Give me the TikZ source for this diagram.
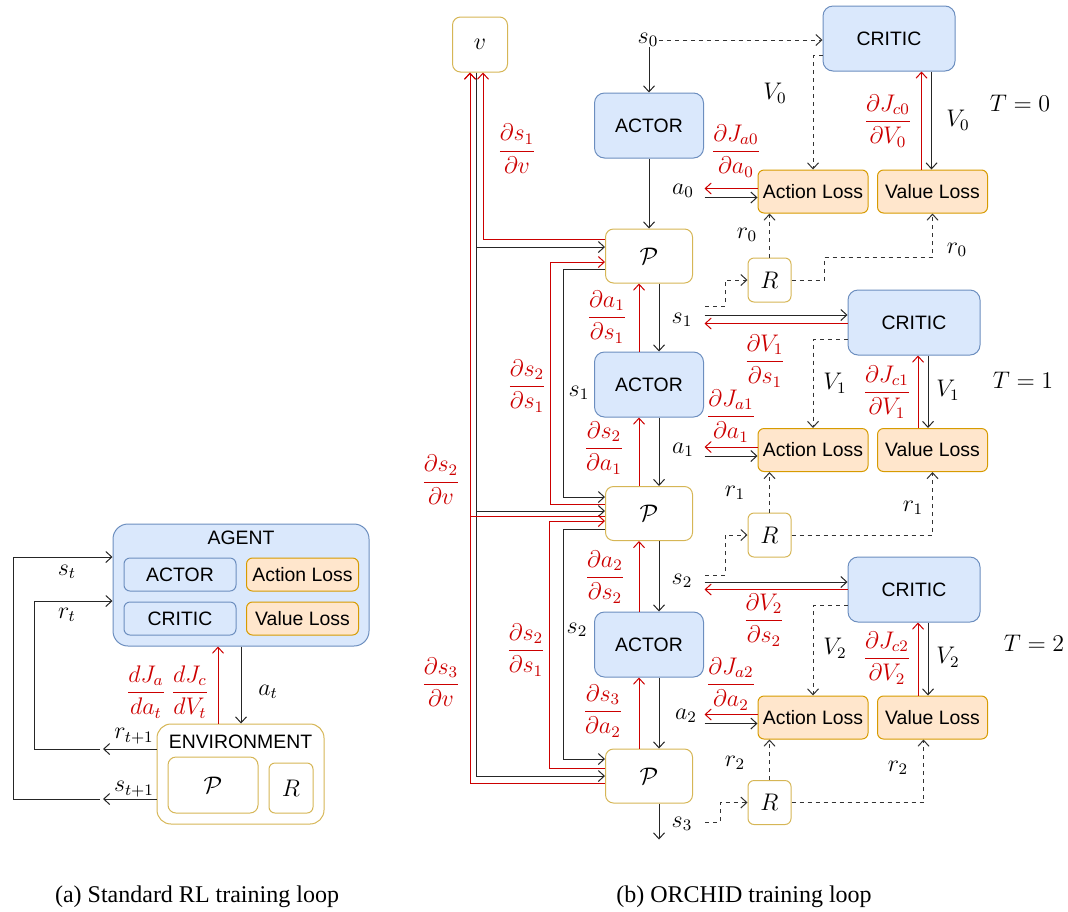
\documentclass[tikz,border=0pt]{standalone}
\usepackage{amsmath}
\usepackage{fontspec}
\setsansfont{Liberation Sans}
\newfontfamily\capfont{Liberation Serif}
\usetikzlibrary{arrows.meta,calc}
\definecolor{bluefill}{HTML}{DAE8FC}
\definecolor{blueedge}{HTML}{6C8EBF}
\definecolor{lossfill}{HTML}{FFE6CC}
\definecolor{lossedge}{HTML}{D79B00}
\definecolor{envedge}{HTML}{D6B656}
\definecolor{gradred}{HTML}{CC0000}
\newcommand{\boxfont}{\fontsize{9.7}{11}\selectfont\sffamily}
\newcommand{\mathfont}{\fontsize{12}{14}\selectfont}
\newcommand{\pd}[2]{$\dfrac{\partial #1}{\partial #2}$}

\begin{document}
\begin{tikzpicture}[
    x=0.5pt, y=-0.5pt,
    >={Straight Barb[length=3pt,width=5.5pt]},
    line width=0.5pt,
    flow/.style={->, black!85},
    grad/.style={->, gradred},
    dflow/.style={->, black!80, dash pattern=on 2pt off 2pt},
    box/.style={rounded corners=4pt, inner sep=0pt, font=\boxfont},
    bluebox/.style={box, draw=blueedge, fill=bluefill},
    actorbox/.style={bluebox, rounded corners=5pt, minimum width=54.5pt, minimum height=32.5pt},
    criticbox/.style={bluebox, rounded corners=5pt, minimum width=66pt, minimum height=32.5pt},
    lossbox/.style={box, draw=lossedge, fill=lossfill, rounded corners=3pt, minimum width=55pt, minimum height=21.5pt},
    envbox/.style={box, draw=envedge, fill=white, font=\mathfont},
    pbox/.style={envbox, minimum width=43.5pt, minimum height=27pt},
    rbox/.style={envbox, rounded corners=3pt, minimum width=21.5pt, minimum height=22pt},
    lbl/.style={font=\mathfont, inner sep=0pt},
    glbl/.style={lbl, text=gradred},
    caption/.style={font=\capfont\fontsize{12}{14}\selectfont, inner sep=0pt}
  ]
  \useasboundingbox (0,0) rectangle (1068,911);

  % (a) standard loop
  \node[bluebox, rounded corners=7.5pt, minimum width=128pt, minimum height=61pt] (agent) at (241,585) {};
  \node[font=\boxfont, inner sep=0pt] (agentlbl) at (241,538) {AGENT};
  \node[bluebox, rounded corners=3pt, minimum width=56pt, minimum height=16.5pt] (actora) at (180,574.5) {ACTOR};
  \node[lossbox, minimum width=56pt, minimum height=16.5pt] (actlossa) at (302.5,574.5) {Action Loss};
  \node[bluebox, rounded corners=3pt, minimum width=56pt, minimum height=16.5pt] (critica) at (180,618.5) {CRITIC};
  \node[lossbox, minimum width=56pt, minimum height=16.5pt] (vallossa) at (302.5,618.5) {Value Loss};
  \node[envbox, rounded corners=7pt, minimum width=83.5pt, minimum height=50pt] (env) at (240.5,774) {};
  \node[font=\boxfont, inner sep=0pt] (envlbl) at (240.5,742) {ENVIRONMENT};
  \node[envbox, minimum width=45pt, minimum height=28pt] (pa) at (213,785) {$\mathcal{P}$};
  \node[rbox, minimum width=22pt, minimum height=25pt] (ra) at (291,788) {$R$};

  \draw[flow] (agent.south) -- (agent.south |- env.north);
  \draw[grad] ($(env.north)+(-22.5,0)$) -- ($(agent.south)+(-23,0)$);
  \coordinate (sret) at (103,799);
  \coordinate (rret) at (103,749);
  \draw[flow] (env.west |- sret) -- (sret);
  \draw[flow] (env.west |- rret) -- (rret);
  \draw[flow] ($(sret)+(-3,0)$) -- ++(-87,0) |- ($(agent.west)+(0,-28)$);
  \draw[flow] ($(rret)+(-3,0)$) -- ++(-66,0) |- ($(agent.west)+(0,16)$);

  \node[lbl] (lst) at (67,572) {$s_t$};
  \node[lbl] (lrt) at (67,615) {$r_t$};
  \node[lbl] (lrt1) at (134,736) {$r_{t+1}$};
  \node[lbl] (lst1) at (134,789) {$s_{t+1}$};
  \node[lbl] (lat) at (268,692) {$a_t$};
  \node[glbl] (lgja) at (146,692) {$\dfrac{dJ_a}{da_t}$};
  \node[glbl] (lgjc) at (190,692) {$\dfrac{dJ_c}{dV_t}$};

  % (b) ORCHID loop, boxes
  \node[envbox, minimum width=27.5pt, minimum height=27.5pt] (v) at (480,44.5) {$v$};
  \node[lbl] (s0) at (648,40) {$s_0$};
  \node[actorbox] (actor0) at (649,125.5) {ACTOR};
  \node[actorbox] (actor1) at (649,384.5) {ACTOR};
  \node[actorbox] (actor2) at (649,644.5) {ACTOR};
  \node[criticbox] (critic0) at (889,38.5) {CRITIC};
  \node[criticbox] (critic1) at (914,322.5) {CRITIC};
  \node[criticbox] (critic2) at (914,589.5) {CRITIC};
  \node[pbox] (p1) at (649,256) {$\mathcal{P}$};
  \node[pbox] (p2) at (649,513.5) {$\mathcal{P}$};
  \node[pbox] (p3) at (649,776) {$\mathcal{P}$};
  \foreach \i/\yl/\yr in {0/191.5/280, 1/450/535, 2/717.5/802.5} {
    \node[lossbox] (al\i) at (813,\yl) {Action Loss};
    \node[lossbox] (vl\i) at (932.5,\yl) {Value Loss};
    \node[rbox] (r\i) at (769.5,\yr) {$R$};
  }

  % losses and rewards
  \foreach \i in {0,1,2} {
    \draw[grad] ($(al\i.west)+(0,-3)$) -- ++(-53,0);
    \draw[flow] ($(al\i.west)+(-53,6)$) -- ($(al\i.west)+(0,6)$);
    \draw[dflow] (r\i.north) -- (r\i.north |- al\i.south);
  }

  % T = 0
  \draw[flow] (s0.south -| actor0) -- (actor0.north);
  \draw[dflow] (s0.east) -- (s0.east -| critic0.west);
  \draw[flow] (actor0.south) -- (actor0.south |- p1.north);
  \draw[dflow] ($(critic0.west)+(0,17)$) -| (al0.north);
  \draw[grad] ($(vl0.north)+(-11,0)$) -- ($(vl0.north |- critic0.south)+(-11,0)$);
  \draw[flow] ($(vl0.north |- critic0.south)+(-1,0)$) -- ($(vl0.north)+(-1,0)$);
  \draw[dflow] (r0.east) -- (824,280) -- (824,257) -| (vl0.south);
  \coordinate (s1r) at (705,306);
  \draw[dflow] (s1r) -- (725,306) |- (r0.west);

  % T = 1
  \draw[flow] ($(p1.south)+(10,0)$) -- ($(actor1.north)+(10,0)$);
  \draw[grad] ($(actor1.north)+(-10,0)$) -- ($(p1.south)+(-10,0)$);
  \draw[flow] ($(actor1.south)+(10,0)$) -- ($(p2.north)+(10,0)$);
  \draw[grad] ($(p2.north)+(-10,0)$) -- ($(actor1.south)+(-10,0)$);
  \draw[flow] ($(critic1.west)+(-143,-7.5)$) -- ($(critic1.west)+(0,-7.5)$);
  \draw[grad] ($(critic1.west)+(0,1)$) -- ++(-143,0);
  \draw[dflow] ($(critic1.west)+(0,16.5)$) -| (al1.north);
  \draw[grad] ($(vl1.north)+(-14.5,0)$) -- ($(vl1.north |- critic1.south)+(-14.5,0)$);
  \draw[flow] ($(vl1.north |- critic1.south)+(-4.5,0)$) -- ($(vl1.north)+(-4.5,0)$);
  \draw[dflow] (r1.east) -| (vl1.south);
  \coordinate (s2r) at (705,575);
  \draw[dflow] (s2r) -- (725,575) |- (r1.west);

  % T = 2
  \draw[flow] ($(p2.south)+(10,0)$) -- ($(actor2.north)+(10,0)$);
  \draw[grad] ($(actor2.north)+(-10,0)$) -- ($(p2.south)+(-10,0)$);
  \draw[flow] ($(actor2.south)+(10,0)$) -- ($(p3.north)+(10,0)$);
  \draw[grad] ($(p3.north)+(-10,0)$) -- ($(actor2.south)+(-10,0)$);
  \draw[flow] ($(critic2.west)+(-143,-7.5)$) -- ($(critic2.west)+(0,-7.5)$);
  \draw[grad] ($(critic2.west)+(0,0)$) -- ++(-143,0);
  \draw[dflow] ($(critic2.west)+(0,16)$) -| (al2.north);
  \draw[grad] ($(vl2.north)+(-14.5,0)$) -- ($(vl2.north |- critic2.south)+(-14.5,0)$);
  \draw[flow] ($(vl2.north |- critic2.south)+(-4.5,0)$) -- ($(vl2.north)+(-4.5,0)$);
  \draw[dflow] (r2.east) -| ($(vl2.south)+(-9,0)$);
  \coordinate (s3r) at (705,822);
  \draw[dflow] (s3r) -- (720,822) |- (r2.west);
  \draw[flow] ($(p3.south)+(10,0)$) -- ++(0,36);

  % v feeds and gradients back to v
  \draw[flow] (v.south) ++(-4,0) |- ($(p1.west)+(0,-9)$);
  \draw[flow] (v.south) ++(-4,0) |- ($(p2.west)+(0,-2.5)$);
  \draw[flow] (v.south) ++(-4,0) |- (p3.west);
  \draw[grad] ($(p1.west)+(0,-17)$) -| ($(v.south)+(3,0)$);
  \draw[grad] ($(p2.west)+(0,2.5)$) -| ($(v.south)+(-10,0)$);
  \draw[grad] ($(p3.west)+(0,7)$) -| ($(v.south)+(-10,0)$);

  % state carried between steps
  \draw[flow] ($(p1.west)+(0,13)$) -- ++(-42,0) |- ($(p2.west)+(0,-16.5)$);
  \draw[grad] ($(p2.west)+(0,-9)$) -- ++(-54.5,0) |- ($(p1.west)+(0,6)$);
  \draw[flow] ($(p2.west)+(0,15.5)$) -- ++(-42,0) |- ($(p3.west)+(0,-17)$);
  \draw[grad] ($(p3.west)+(0,-8)$) -- ++(-55.5,0) |- ($(p2.west)+(0,7.5)$);

  % labels
  \node[lbl] (ls1) at (682,320) {$s_1$};
  \node[lbl] (ls2) at (682,581) {$s_2$};
  \node[lbl] (ls3) at (682,824) {$s_3$};
  \node[lbl] (ls1b) at (579,393) {$s_1$};
  \node[lbl] (ls2b) at (577,630) {$s_2$};
  \node[lbl] (la0) at (683,191) {$a_0$};
  \node[lbl] (la1) at (683,450) {$a_1$};
  \node[lbl] (la2) at (686,716) {$a_2$};
  \node[lbl] (lv0a) at (775,93) {$V_0$};
  \node[lbl] (lv0b) at (958,120) {$V_0$};
  \node[lbl] (lv1a) at (835,383) {$V_1$};
  \node[lbl] (lv1b) at (948,390) {$V_1$};
  \node[lbl] (lv2a) at (835,648) {$V_2$};
  \node[lbl] (lv2b) at (948,657) {$V_2$};
  \node[lbl] (lr0a) at (747,235) {$r_0$};
  \node[lbl] (lr0b) at (957,250) {$r_0$};
  \node[lbl] (lr1a) at (735,493) {$r_1$};
  \node[lbl] (lr1b) at (913,508) {$r_1$};
  \node[lbl] (lr2a) at (735,763) {$r_2$};
  \node[lbl] (lr2b) at (898,768) {$r_2$};
  \foreach \t/\x/\y in {0/1020/103, 1/1023/380, 2/1034/643} {
    \node[lbl] (lt\t) at (\x,\y) {$T=\t$};
  }

  % gradient labels
  \node[glbl] (gs1v) at (517,149) {\pd{s_1}{v}};
  \node[glbl] (gs2va) at (441,480) {\pd{s_2}{v}};
  \node[glbl] (gs3v) at (441,682) {\pd{s_3}{v}};
  \node[glbl] (gs2s1a) at (527,386) {\pd{s_2}{s_1}};
  \node[glbl] (gs2s1b) at (526,650) {\pd{s_2}{s_1}};
  \node[glbl] (ga1s1) at (607,317) {\pd{a_1}{s_1}};
  \node[glbl] (gs2a1) at (604,448) {\pd{s_2}{a_1}};
  \node[glbl] (ga2s2) at (605,577) {\pd{a_2}{s_2}};
  \node[glbl] (gs3a2) at (603,711) {\pd{s_3}{a_2}};
  \node[glbl] (gja0) at (736,151) {\pd{J_{a0}}{a_0}};
  \node[glbl] (gja1) at (731,416) {\pd{J_{a1}}{a_1}};
  \node[glbl] (gja2) at (731,684) {\pd{J_{a2}}{a_2}};
  \node[glbl] (gjc0) at (888,121) {\pd{J_{c0}}{V_0}};
  \node[glbl] (gjc1) at (887,392) {\pd{J_{c1}}{V_1}};
  \node[glbl] (gjc2) at (887,658) {\pd{J_{c2}}{V_2}};
  \node[glbl] (gv1) at (765,361) {\pd{V_1}{s_1}};
  \node[glbl] (gv2) at (764,620) {\pd{V_2}{s_2}};

  % captions
  \node[caption] (capa) at (197,897) {(a) Standard RL training loop};
  \node[caption] (capb) at (744,897) {(b) ORCHID training loop};
\end{tikzpicture}
\end{document}
